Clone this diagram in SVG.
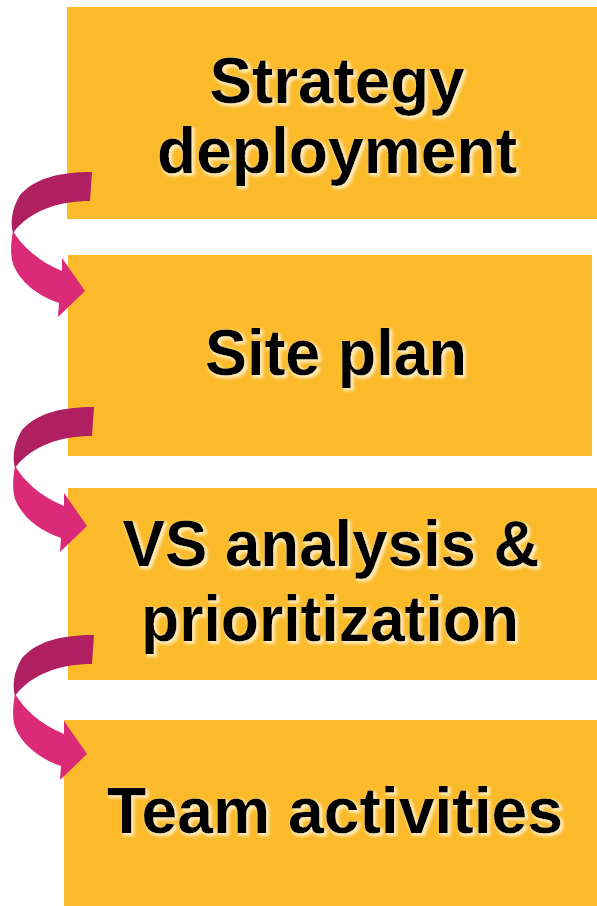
<svg xmlns="http://www.w3.org/2000/svg" width="597" height="906" viewBox="0 0 597 906">
<style>
.box{fill:#FABA2A}
.lbl{font-family:"Liberation Sans",Arial,sans-serif;font-weight:bold;font-size:64px;fill:#000;text-anchor:middle;filter:url(#glow)}
.dark{fill:#B01F62}
.pink{fill:#DA2A78}
</style>
<defs>
<filter id="glow" x="-10%" y="-30%" width="120%" height="160%">
<feMorphology in="SourceAlpha" operator="dilate" radius="1" result="d"/>
<feGaussianBlur in="d" stdDeviation="1.8" result="b"/>
<feOffset in="b" dx="2" dy="2" result="o"/>
<feFlood flood-color="#FFF3D0" flood-opacity="0.85"/>
<feComposite in2="o" operator="in" result="g"/>
<feMerge><feMergeNode in="g"/><feMergeNode in="SourceGraphic"/></feMerge>
</filter>
<g id="curved-arrow">
<path class="dark" d="M92,172 L90,201 C60,201 30,210 13,233 C10,222 12,208 20,195 C35,178 60,172 92,172 Z"/>
<path class="pink" d="M13,231 C22,246 38,261 62,271 L62,258 L85,291 L58,317 L59,303 C38,296 20,282 13,264 C10,254 11,242 13,231 Z"/>
</g>
</defs>
<g id="node-strategy">
<rect class="box" x="67" y="7" width="530" height="212"/>
<text class="lbl" x="337" y="103" textLength="255" lengthAdjust="spacingAndGlyphs">Strategy</text>
<text class="lbl" x="337" y="173" textLength="360" lengthAdjust="spacingAndGlyphs">deployment</text>
</g>
<g id="node-site">
<rect class="box" x="68" y="255" width="524" height="201"/>
<text class="lbl" x="336" y="375" textLength="262" lengthAdjust="spacingAndGlyphs">Site plan</text>
</g>
<g id="node-vs">
<rect class="box" x="68" y="488" width="529" height="192"/>
<text class="lbl" x="331" y="566" textLength="417" lengthAdjust="spacingAndGlyphs">VS analysis &amp;</text>
<text class="lbl" x="330" y="641" textLength="378" lengthAdjust="spacingAndGlyphs">prioritization</text>
</g>
<g id="node-team">
<rect class="box" x="64" y="720" width="533" height="186"/>
<text class="lbl" x="335" y="833" textLength="456" lengthAdjust="spacingAndGlyphs">Team activities</text>
</g>
<g id="connectors">
<use href="#curved-arrow"/>
<use href="#curved-arrow" transform="translate(2,235)"/>
<use href="#curved-arrow" transform="translate(2,463)"/>
</g>
</svg>
